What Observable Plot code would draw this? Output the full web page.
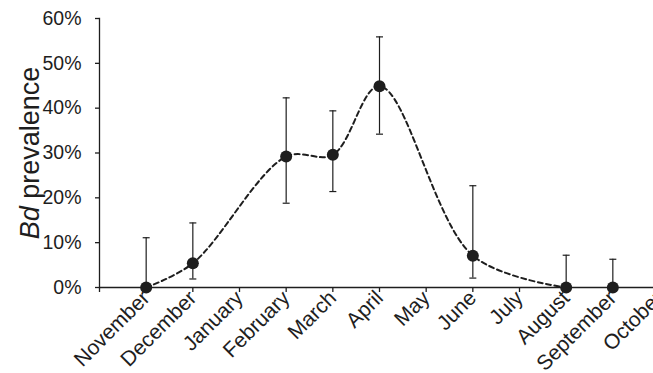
<!DOCTYPE html>
<html>
<head>
<meta charset="utf-8">
<script src="https://cdn.jsdelivr.net/npm/d3@7"></script>
<script src="https://cdn.jsdelivr.net/npm/@observablehq/plot@0.6"></script>
<style>
  html, body { margin: 0; padding: 0; background: #fff; overflow: hidden; }
  #chart { width: 653px; height: 373px; }
</style>
</head>
<body>
<div id="chart"></div>
<script>
// Axis categories (leading blank slot gives the tick at the axis origin)
const months = ["November","December","January","February","March","April","May","June","July","August","September","October"];
const yTicks = [0, 10, 20, 30, 40, 50, 60];

// Sampled months and Bd prevalence (%) with 95% CI bounds
const sampledMonths = ["November","December","February","March","April","June","August","September"];
const prevalence    = [0,    5.4,  29.2, 29.6, 44.9, 7.1,  0,   0];
const upper         = [11.1, 14.4, 42.3, 39.4, 55.9, 22.7, 7.2, 6.3];
const lower         = [0,    1.9,  18.8, 21.4, 34.2, 2.1,  0,   0];

// Months joined by the smoothed dashed trend line
const trendMonths = ["November","December","February","March","April","June","August"];

const data = sampledMonths.map((m, i) => ({month: m, p: prevalence[i], hi: upper[i], lo: lower[i]}));
const trend = data.filter(d => trendMonths.includes(d.month));

const ink = "#1e1e1e";
const font = "'Liberation Sans', Arial, sans-serif";

// horizontal cap symbol for error bars
const cap = {draw(ctx) { ctx.moveTo(-3.5, 0); ctx.lineTo(3.5, 0); }};

const chart = Plot.plot({
  width: 653,
  height: 373,
  marginTop: 18,
  marginBottom: 86,
  marginLeft: 99,
  marginRight: 0,
  style: {fontFamily: font, color: ink, background: "white"},
  x: {type: "point", domain: [" ", ...months], range: [99, 659], padding: 0, round: false},
  y: {domain: [0, 60]},
  marks: [
    Plot.frame({anchor: "left", stroke: ink, strokeWidth: 1.3}),
    Plot.ruleY([0], {stroke: ink, strokeWidth: 1.3}),
    Plot.axisY({ticks: yTicks, tickFormat: d => d + "%", tickSize: 4, tickPadding: 14, fontSize: 19.5, label: null, stroke: ink, strokeWidth: 1.3}),
    Plot.axisX({tickRotate: -45, tickSize: 5, tickPadding: 2, fontSize: 21, label: null, stroke: ink, strokeWidth: 1.3, tickFormat: d => d.trim()}),
    Plot.ruleX(data, {x: "month", y1: "lo", y2: "hi", stroke: ink, strokeWidth: 1.2}),
    Plot.dot(data, {x: "month", y: "hi", symbol: cap, stroke: ink, strokeWidth: 1.2, fill: "none"}),
    Plot.dot(data, {x: "month", y: "lo", symbol: cap, stroke: ink, strokeWidth: 1.2, fill: "none"}),
    Plot.line(trend, {x: "month", y: "p", curve: "catmull-rom", stroke: ink, strokeWidth: 2, strokeDasharray: "5,3.5"}),
    Plot.dot(data, {x: "month", y: "p", r: 6, fill: ink, stroke: "none"}),
    Plot.text(["Bd prevalence"], {frameAnchor: "left", textAnchor: "middle", rotate: -90, dx: -69, fontSize: 27, fill: ink})
  ]
});

document.getElementById("chart").appendChild(chart);

// Italicise "Bd" in the y label
chart.querySelectorAll("text").forEach(t => {
  if (t.textContent === "Bd prevalence") {
    t.textContent = "";
    const ns = "http://www.w3.org/2000/svg";
    const a = document.createElementNS(ns, "tspan");
    a.setAttribute("font-style", "italic");
    a.textContent = "Bd";
    const b = document.createElementNS(ns, "tspan");
    b.textContent = " prevalence";
    t.appendChild(a);
    t.appendChild(b);
  }
});
</script>
</body>
</html>
